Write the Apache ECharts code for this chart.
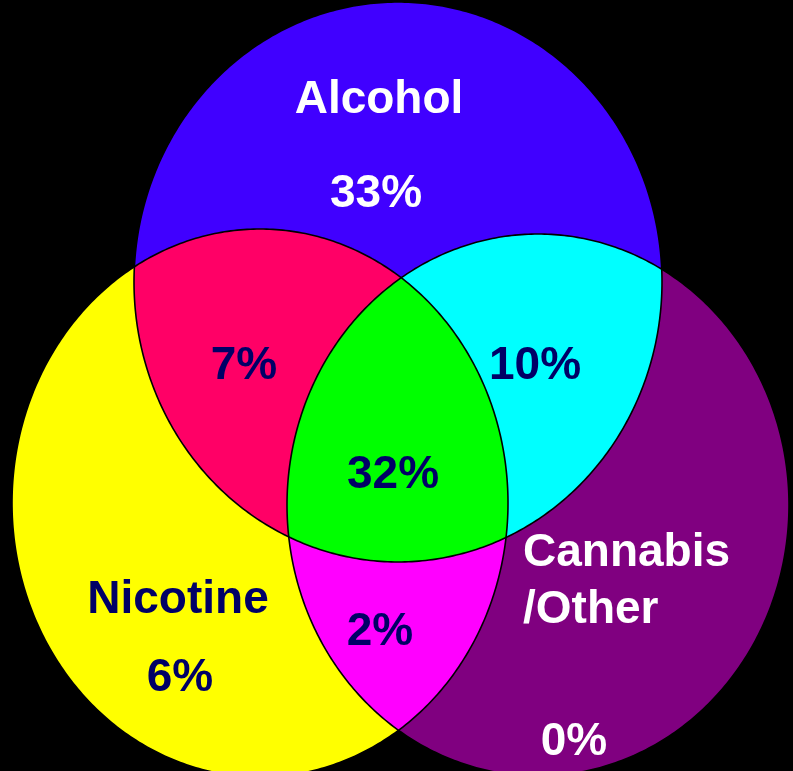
<!DOCTYPE html>
<html>
<head>
<meta charset="utf-8">
<script src="https://cdn.jsdelivr.net/npm/echarts@6/dist/echarts.min.js"></script>
<style>
  html, body { margin: 0; padding: 0; background: #000; }
  #chart { width: 793px; height: 771px; }
</style>
</head>
<body>
<div id="chart"></div>
<script>
// ---- data ----
const setNames = ['Alcohol', 'Nicotine', 'Cannabis\n/Other'];
const setOnlyValues = [33, 6, 0];                 // % using only that substance
const pairNames = ['Alcohol+Nicotine', 'Alcohol+Cannabis/Other', 'Nicotine+Cannabis/Other'];
const pairValues = [7, 10, 2];                     // % using exactly that pair
const tripleName = 'All three';
const tripleValue = 32;                            // % using all three

// ---- layout (plot units = pixels of the 793x771 frame) ----
const ELLIPSES = [
  { cx: 398, cy: 282, rx: 264, ry: 280 },  // Alcohol
  { cx: 260, cy: 503, rx: 248, ry: 274 },  // Nicotine
  { cx: 538, cy: 505, rx: 251, ry: 271 }   // Cannabis/Other
];
const SET_COLORS = ['#4000FF', '#FFFF00', '#800080'];
const PAIR_SETS = [[0, 1], [0, 2], [1, 2]];
const PAIR_COLORS = ['#FF0066', '#00FFFF', '#FF00FF'];
const TRIPLE_COLOR = '#00FF00';
const NAVY = '#000066';

const REGIONS = [];
for (let i = 0; i < 3; i++) REGIONS.push({ sets: [i], color: SET_COLORS[i] });
for (let i = 0; i < 3; i++) REGIONS.push({ sets: PAIR_SETS[i], color: PAIR_COLORS[i] });
REGIONS.push({ sets: [0, 1, 2], color: TRIPLE_COLOR });

// label anchors
const SET_NAME_POS = [[379, 100, 'center'], [178, 600, 'center'], [523, 582, 'left']];
const SET_VALUE_POS = [[376, 194], [180, 678], [574, 742]];
const SET_TEXT_COLORS = ['#FFFFFF', NAVY, '#FFFFFF'];
const PAIR_VALUE_POS = [[244, 366], [535, 366], [380, 632]];
const TRIPLE_POS = [393, 475];

const LABELS = [];
for (let i = 0; i < 3; i++) {
  LABELS.push({ text: setNames[i], pos: SET_NAME_POS[i], color: SET_TEXT_COLORS[i] });
  LABELS.push({ text: setOnlyValues[i] + '%', pos: [SET_VALUE_POS[i][0], SET_VALUE_POS[i][1], 'center'], color: SET_TEXT_COLORS[i] });
}
for (let i = 0; i < 3; i++) {
  LABELS.push({ text: pairValues[i] + '%', pos: [PAIR_VALUE_POS[i][0], PAIR_VALUE_POS[i][1], 'center'], color: NAVY });
}
LABELS.push({ text: tripleValue + '%', pos: [TRIPLE_POS[0], TRIPLE_POS[1], 'center'], color: NAVY });

const FONT = 'bold 46px "Liberation Sans", Arial, sans-serif';

// ---- geometry helpers ----
function ellipsePoints(api, e) {
  const pts = [];
  const N = 480;
  for (let k = 0; k < N; k++) {
    const t = (k / N) * Math.PI * 2;
    pts.push(api.coord([e.cx + e.rx * Math.cos(t), e.cy + e.ry * Math.sin(t)]));
  }
  return pts;
}
function signedArea(p) {
  let s = 0;
  for (let i = 0; i < p.length; i++) {
    const a = p[i], b = p[(i + 1) % p.length];
    s += a[0] * b[1] - b[0] * a[1];
  }
  return s / 2;
}
function clipPoly(subject, clip) {
  const sg = signedArea(clip) > 0 ? 1 : -1;
  let out = subject;
  for (let i = 0; i < clip.length && out.length; i++) {
    const a = clip[i], b = clip[(i + 1) % clip.length];
    const ex = b[0] - a[0], ey = b[1] - a[1];
    const side = p => sg * (ex * (p[1] - a[1]) - ey * (p[0] - a[0]));
    const inp = out;
    out = [];
    for (let j = 0; j < inp.length; j++) {
      const cur = inp[j], prev = inp[(j + inp.length - 1) % inp.length];
      const sc = side(cur), sp = side(prev);
      if (sc >= 0) {
        if (sp < 0) {
          const t = sp / (sp - sc);
          out.push([prev[0] + t * (cur[0] - prev[0]), prev[1] + t * (cur[1] - prev[1])]);
        }
        out.push(cur);
      } else if (sp >= 0) {
        const t = sp / (sp - sc);
        out.push([prev[0] + t * (cur[0] - prev[0]), prev[1] + t * (cur[1] - prev[1])]);
      }
    }
  }
  return out;
}

const chart = echarts.init(document.getElementById('chart'), null, { renderer: 'canvas' });
chart.setOption({
  backgroundColor: '#000000',
  animation: false,
  grid: { left: 0, right: 0, top: 0, bottom: 0 },
  xAxis: { type: 'value', min: 0, max: 793, show: false },
  yAxis: { type: 'value', min: 0, max: 771, inverse: true, show: false },
  series: [
    {
      type: 'custom',
      coordinateSystem: 'cartesian2d',
      data: REGIONS.map((r, i) => [i]),
      renderItem: function (params, api) {
        const r = REGIONS[api.value(0)];
        let poly = ellipsePoints(api, ELLIPSES[r.sets[0]]);
        for (let k = 1; k < r.sets.length; k++) {
          poly = clipPoly(poly, ellipsePoints(api, ELLIPSES[r.sets[k]]));
        }
        return { type: 'polygon', shape: { points: poly }, style: { fill: r.color } };
      },
      silent: true
    },
    {
      type: 'custom',
      coordinateSystem: 'cartesian2d',
      data: ELLIPSES.map((e, i) => [i]),
      renderItem: function (params, api) {
        const pts = ellipsePoints(api, ELLIPSES[api.value(0)]);
        return { type: 'polygon', shape: { points: pts }, style: { fill: 'none', stroke: '#000', lineWidth: 1.6 } };
      },
      silent: true
    },
    {
      type: 'custom',
      coordinateSystem: 'cartesian2d',
      data: LABELS.map((l, i) => [l.pos[0], l.pos[1], i]),
      renderItem: function (params, api) {
        const l = LABELS[api.value(2)];
        const p = api.coord([api.value(0), api.value(1)]);
        return {
          type: 'text', x: p[0], y: p[1],
          style: {
            text: l.text, fill: l.color, font: FONT,
            align: l.pos[2], verticalAlign: 'middle', lineHeight: 57
          }
        };
      },
      silent: true
    }
  ]
});
</script>
</body>
</html>
